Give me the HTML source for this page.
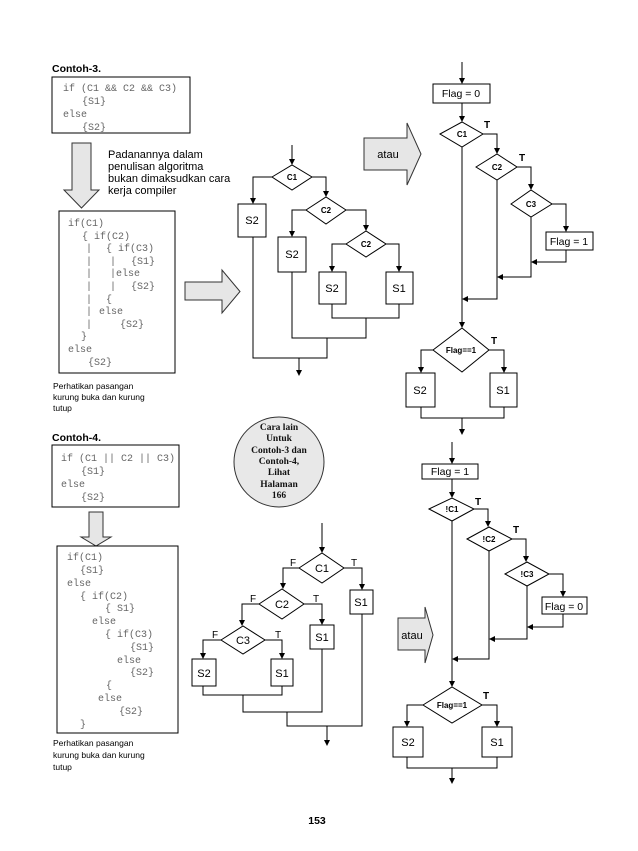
<!DOCTYPE html>
<html><head><meta charset="utf-8"><style>
html,body{margin:0;padding:0;background:#fff;}
svg{display:block;}
.c{font-family:"Liberation Mono",monospace;font-size:10px;fill:#666;}
.s{font-family:"Liberation Sans",sans-serif;fill:#000;}
.ln{fill:none;stroke:#000;stroke-width:1;}
.bx{fill:#fff;stroke:#000;stroke-width:1;}
.ar{fill:#e6e6e6;stroke:#333;stroke-width:1;}
</style></head><body>
<svg width="638" height="851" viewBox="0 0 638 851" xmlns="http://www.w3.org/2000/svg">
<defs><marker id="a" markerWidth="6" markerHeight="6" refX="5" refY="3" orient="auto" markerUnits="userSpaceOnUse"><path d="M0,0 L6,3 L0,6 z" fill="#000"/></marker></defs>

<!-- Contoh-3 -->
<text x="52" y="72" class="s" font-size="10.5" font-weight="bold">Contoh-3.</text>
<rect x="52" y="77" width="138" height="56" class="bx"/>
<text class="c" x="63" y="91">if (C1 &amp;&amp; C2 &amp;&amp; C3)</text>
<text class="c" x="82" y="104">{S1}</text>
<text class="c" x="63" y="117">else</text>
<text class="c" x="82" y="130">{S2}</text>

<path d="M72,143 H91 V190 H99 L81.5,208 L64,190 H72 Z" class="ar"/>
<text class="s" font-size="11" fill="#111"><tspan x="108" y="158">Padanannya dalam</tspan><tspan x="108" y="170">penulisan algoritma</tspan><tspan x="108" y="182">bukan dimaksudkan cara</tspan><tspan x="108" y="194">kerja compiler</tspan></text>

<rect x="59" y="211" width="116" height="162" class="bx"/>
<text class="c" x="68" y="226">if(C1)</text>
<text class="c" x="82" y="239">{ if(C2)</text>
<text class="c" x="86" y="251">|</text><text class="c" x="106" y="251">{ if(C3)</text>
<text class="c" x="86" y="264">|</text><text class="c" x="110" y="264">|</text><text class="c" x="131" y="264">{S1}</text>
<text class="c" x="86" y="276">|</text><text class="c" x="110" y="276">|else</text>
<text class="c" x="86" y="289">|</text><text class="c" x="110" y="289">|</text><text class="c" x="131" y="289">{S2}</text>
<text class="c" x="86" y="302">|</text><text class="c" x="106" y="302">{</text>
<text class="c" x="86" y="314">|</text><text class="c" x="99" y="314">else</text>
<text class="c" x="86" y="327">|</text><text class="c" x="120" y="327">{S2}</text>
<text class="c" x="81" y="339">}</text>
<text class="c" x="68" y="352">else</text>
<text class="c" x="88" y="365">{S2}</text>
<text class="s" font-size="8.5" fill="#222"><tspan x="53" y="389">Perhatikan pasangan</tspan><tspan x="53" y="400">kurung buka dan kurung</tspan><tspan x="53" y="411">tutup</tspan></text>

<path d="M185,282 H222 V270 L240,291.5 L222,313 V300 H185 Z" class="ar"/>

<!-- Flowchart 1 -->
<line x1="292" y1="145" x2="292" y2="164" class="ln" marker-end="url(#a)"/>
<polygon points="272,177 292,165 312,177 292,190" class="bx"/>
<text x="292" y="180" class="s" font-size="8" font-weight="bold" text-anchor="middle">C1</text>
<polyline points="272,177 253,177 253,203" class="ln" marker-end="url(#a)"/>
<rect x="238" y="204" width="28" height="33" class="bx"/><text x="252" y="224" class="s" font-size="11" text-anchor="middle">S2</text>
<polyline points="312,177 326,177 326,196" class="ln" marker-end="url(#a)"/>
<polygon points="306,210 326,197 346,210 326,224" class="bx"/>
<text x="326" y="213" class="s" font-size="8" font-weight="bold" text-anchor="middle">C2</text>
<polyline points="306,210 292,210 292,236" class="ln" marker-end="url(#a)"/>
<rect x="278" y="237" width="28" height="35" class="bx"/><text x="292" y="258" class="s" font-size="11" text-anchor="middle">S2</text>
<polyline points="346,210 366,210 366,230" class="ln" marker-end="url(#a)"/>
<polygon points="346,244 366,231 386,244 366,257" class="bx"/>
<text x="366" y="247" class="s" font-size="8" font-weight="bold" text-anchor="middle">C2</text>
<polyline points="346,244 332,244 332,271" class="ln" marker-end="url(#a)"/>
<polyline points="386,244 399,244 399,271" class="ln" marker-end="url(#a)"/>
<rect x="319" y="272" width="27" height="32" class="bx"/><text x="332" y="292" class="s" font-size="11" text-anchor="middle">S2</text>
<rect x="386" y="272" width="27" height="32" class="bx"/><text x="399" y="292" class="s" font-size="11" text-anchor="middle">S1</text>
<polyline points="332,304 332,318 399,318 399,304" class="ln"/>
<polyline points="366,318 366,338 292,338 292,272" class="ln"/>
<polyline points="327,338 327,358 253,358 253,237" class="ln"/>
<line x1="299" y1="358" x2="299" y2="375" class="ln" marker-end="url(#a)"/>

<!-- atau 1 -->
<path d="M364,138 H407 V123 L421,154 L407,185 V170 H364 Z" class="ar"/>
<text x="388" y="158" class="s" font-size="11" text-anchor="middle">atau</text>

<!-- Flowchart 3 -->
<line x1="462" y1="62" x2="462" y2="83" class="ln" marker-end="url(#a)"/>
<rect x="433" y="84" width="57" height="19" class="bx"/><text x="461" y="97" class="s" font-size="10.5" text-anchor="middle">Flag = 0</text>
<line x1="462" y1="103" x2="462" y2="121" class="ln" marker-end="url(#a)"/>
<polygon points="440,134 462,122 483,134 462,147" class="bx"/>
<text x="462" y="137" class="s" font-size="8" font-weight="bold" text-anchor="middle">C1</text>
<text x="484" y="128" class="s" font-size="10" font-weight="bold">T</text>
<polyline points="483,134 497,134 497,153" class="ln" marker-end="url(#a)"/>
<polygon points="476,167 497,154 517,167 497,180" class="bx"/>
<text x="497" y="170" class="s" font-size="8" font-weight="bold" text-anchor="middle">C2</text>
<text x="519" y="161" class="s" font-size="10" font-weight="bold">T</text>
<polyline points="517,167 531,167 531,189" class="ln" marker-end="url(#a)"/>
<polygon points="511,204 531,190 552,204 531,217" class="bx"/>
<text x="531" y="207" class="s" font-size="8" font-weight="bold" text-anchor="middle">C3</text>
<polyline points="552,204 566,204 566,231" class="ln" marker-end="url(#a)"/>
<rect x="546" y="232" width="47" height="18" class="bx"/><text x="569" y="245" class="s" font-size="10.5" text-anchor="middle">Flag = 1</text>
<polyline points="566,250 566,262 532,262" class="ln" marker-end="url(#a)"/>
<polyline points="531,217 531,277 498,277" class="ln" marker-end="url(#a)"/>
<polyline points="497,180 497,299 463,299" class="ln" marker-end="url(#a)"/>
<line x1="462" y1="147" x2="462" y2="327" class="ln" marker-end="url(#a)"/>
<polygon points="433,350 462,328 489,350 462,372" class="bx"/>
<text x="461" y="353" class="s" font-size="8" font-weight="bold" text-anchor="middle">Flag==1</text>
<text x="491" y="344" class="s" font-size="10" font-weight="bold">T</text>
<polyline points="433,350 421,350 421,372" class="ln" marker-end="url(#a)"/>
<polyline points="489,350 504,350 504,372" class="ln" marker-end="url(#a)"/>
<rect x="406" y="373" width="29" height="34" class="bx"/><text x="420" y="394" class="s" font-size="11" text-anchor="middle">S2</text>
<rect x="490" y="373" width="27" height="34" class="bx"/><text x="503" y="394" class="s" font-size="11" text-anchor="middle">S1</text>
<polyline points="421,407 421,418 504,418 504,407" class="ln"/>
<line x1="462" y1="418" x2="462" y2="434" class="ln" marker-end="url(#a)"/>

<!-- circle -->
<circle cx="279" cy="462" r="45" fill="#e8e8e8" stroke="#333" stroke-width="1"/>
<g font-family="'Liberation Serif',serif" font-size="9.5" font-weight="bold" text-anchor="middle" fill="#111">
<text x="279" y="430">Cara lain</text><text x="279" y="441">Untuk</text><text x="279" y="453">Contoh-3 dan</text><text x="279" y="464">Contoh-4,</text><text x="279" y="475">Lihat</text><text x="279" y="487">Halaman</text><text x="279" y="498">166</text></g>

<!-- Contoh-4 -->
<text x="52" y="441" class="s" font-size="10.5" font-weight="bold">Contoh-4.</text>
<rect x="52" y="445" width="127" height="62" class="bx"/>
<text class="c" x="61" y="461">if (C1 || C2 || C3)</text>
<text class="c" x="81" y="474">{S1}</text>
<text class="c" x="61" y="487">else</text>
<text class="c" x="81" y="500">{S2}</text>
<path d="M89,512 H103 V537 H111 L96,546 L81,537 H89 Z" class="ar"/>

<rect x="57" y="546" width="121" height="187" class="bx"/>
<text class="c" x="67" y="560">if(C1)</text>
<text class="c" x="80" y="573">{S1}</text>
<text class="c" x="67" y="586">else</text>
<text class="c" x="80" y="599">{ if(C2)</text>
<text class="c" x="105" y="611">{ S1}</text>
<text class="c" x="92" y="624">else</text>
<text class="c" x="105" y="637">{ if(C3)</text>
<text class="c" x="130" y="650">{S1}</text>
<text class="c" x="117" y="663">else</text>
<text class="c" x="130" y="675">{S2}</text>
<text class="c" x="106" y="688">{</text>
<text class="c" x="98" y="701">else</text>
<text class="c" x="119" y="714">{S2}</text>
<text class="c" x="80" y="727">}</text>
<text class="s" font-size="8.5" fill="#222"><tspan x="53" y="746">Perhatikan pasangan</tspan><tspan x="53" y="758">kurung buka dan kurung</tspan><tspan x="53" y="770">tutup</tspan></text>

<!-- Flowchart 2 -->
<line x1="322" y1="523" x2="322" y2="552" class="ln" marker-end="url(#a)"/>
<polygon points="299,568 322,553 344,568 322,583" class="bx"/>
<text x="322" y="572" class="s" font-size="11" text-anchor="middle">C1</text>
<text x="290" y="566" class="s" font-size="10">F</text><text x="351" y="566" class="s" font-size="10">T</text>
<polyline points="299,568 283,568 283,588" class="ln" marker-end="url(#a)"/>
<polyline points="344,568 362,568 362,589" class="ln" marker-end="url(#a)"/>
<rect x="350" y="590" width="23" height="24" class="bx"/><text x="361" y="606" class="s" font-size="11" text-anchor="middle">S1</text>
<polygon points="259,604 282,589 304,604 282,619" class="bx"/>
<text x="282" y="608" class="s" font-size="11" text-anchor="middle">C2</text>
<text x="250" y="602" class="s" font-size="10">F</text><text x="313" y="602" class="s" font-size="10">T</text>
<polyline points="304,604 322,604 322,624" class="ln" marker-end="url(#a)"/>
<rect x="310" y="625" width="24" height="24" class="bx"/><text x="322" y="641" class="s" font-size="11" text-anchor="middle">S1</text>
<polyline points="259,604 242,604 242,625" class="ln" marker-end="url(#a)"/>
<polygon points="221,640 243,626 265,640 243,654" class="bx"/>
<text x="243" y="644" class="s" font-size="11" text-anchor="middle">C3</text>
<text x="212" y="638" class="s" font-size="10">F</text><text x="275" y="638" class="s" font-size="10">T</text>
<polyline points="221,640 203,640 203,658" class="ln" marker-end="url(#a)"/>
<polyline points="265,640 282,640 282,658" class="ln" marker-end="url(#a)"/>
<rect x="192" y="659" width="24" height="27" class="bx"/><text x="204" y="677" class="s" font-size="11" text-anchor="middle">S2</text>
<rect x="271" y="659" width="22" height="27" class="bx"/><text x="282" y="677" class="s" font-size="11" text-anchor="middle">S1</text>
<polyline points="203,686 203,695 282,695 282,686" class="ln"/>
<polyline points="243,695 243,712 322,712 322,649" class="ln"/>
<polyline points="287,712 287,726 362,726 362,614" class="ln"/>
<line x1="327" y1="726" x2="327" y2="745" class="ln" marker-end="url(#a)"/>

<!-- Flowchart 4 -->
<line x1="452" y1="442" x2="452" y2="463" class="ln" marker-end="url(#a)"/>
<rect x="422" y="464" width="56" height="15" class="bx"/><text x="450" y="475" class="s" font-size="10.5" text-anchor="middle">Flag = 1</text>
<line x1="452" y1="479" x2="452" y2="497" class="ln" marker-end="url(#a)"/>
<polygon points="429,509 452,498 474,509 452,521" class="bx"/>
<text x="452" y="512" class="s" font-size="8" font-weight="bold" text-anchor="middle">!C1</text>
<text x="475" y="505" class="s" font-size="10" font-weight="bold">T</text>
<polyline points="474,509 488,509 488,526" class="ln" marker-end="url(#a)"/>
<polygon points="467,539 489,527 512,539 489,551" class="bx"/>
<text x="489" y="542" class="s" font-size="8" font-weight="bold" text-anchor="middle">!C2</text>
<text x="513" y="533" class="s" font-size="10" font-weight="bold">T</text>
<polyline points="512,539 526,539 526,561" class="ln" marker-end="url(#a)"/>
<polygon points="505,574 527,562 549,574 527,586" class="bx"/>
<text x="527" y="577" class="s" font-size="8" font-weight="bold" text-anchor="middle">!C3</text>
<polyline points="549,574 563,574 563,596" class="ln" marker-end="url(#a)"/>
<rect x="542" y="597" width="45" height="17" class="bx"/><text x="564" y="610" class="s" font-size="10.5" text-anchor="middle">Flag = 0</text>
<polyline points="563,614 563,627 528,627" class="ln" marker-end="url(#a)"/>
<polyline points="527,586 527,639 490,639" class="ln" marker-end="url(#a)"/>
<polyline points="489,551 489,659 453,659" class="ln" marker-end="url(#a)"/>
<line x1="452" y1="521" x2="452" y2="686" class="ln" marker-end="url(#a)"/>
<polygon points="423,705 452,687 482,705 452,723" class="bx"/>
<text x="452" y="708" class="s" font-size="8" font-weight="bold" text-anchor="middle">Flag==1</text>
<text x="483" y="699" class="s" font-size="10" font-weight="bold">T</text>
<polyline points="423,705 407,705 407,726" class="ln" marker-end="url(#a)"/>
<polyline points="482,705 497,705 497,726" class="ln" marker-end="url(#a)"/>
<rect x="393" y="727" width="30" height="30" class="bx"/><text x="408" y="746" class="s" font-size="11" text-anchor="middle">S2</text>
<rect x="482" y="727" width="30" height="30" class="bx"/><text x="497" y="746" class="s" font-size="11" text-anchor="middle">S1</text>
<polyline points="407,757 407,768 497,768 497,757" class="ln"/>
<line x1="452" y1="768" x2="452" y2="783" class="ln" marker-end="url(#a)"/>

<!-- atau 2 -->
<path d="M398,618 H425 V607 L433,635 L425,663 V650 H398 Z" class="ar"/>
<text x="412" y="639" class="s" font-size="11" text-anchor="middle">atau</text>

<text x="317" y="824" class="s" font-size="10.5" font-weight="bold" text-anchor="middle" fill="#222">153</text>
</svg>
</body></html>
